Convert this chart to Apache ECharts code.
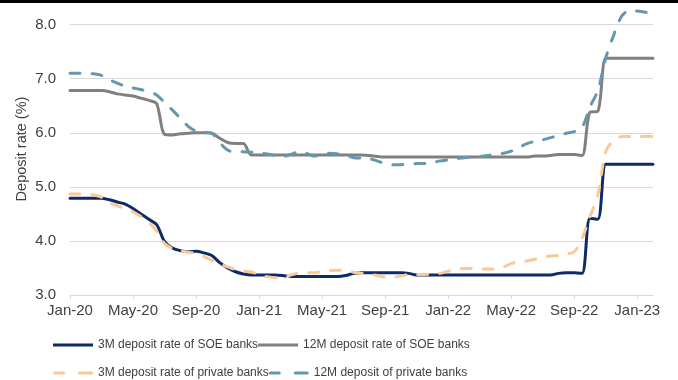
<!DOCTYPE html>
<html>
<head>
<meta charset="utf-8">
<script src="https://cdn.jsdelivr.net/npm/echarts@6/dist/echarts.min.js"></script>
<style>
  html, body { margin: 0; padding: 0; background: #fff; }
  #chart { width: 678px; height: 380px; }
</style>
</head>
<body>
<div id="chart"></div>
<script>
// Semi-monthly observations, Jan-20 through Feb-23
const periods = [];
(function () {
  const mon = ['Jan','Feb','Mar','Apr','May','Jun','Jul','Aug','Sep','Oct','Nov','Dec'];
  for (let m = 0; m < 38; m++) {
    const y = 20 + Math.floor(m / 12);
    const name = mon[m % 12] + '-' + y;
    periods.push(name);
    if (m < 37) periods.push(name + ' (mid)');
  }
})();

const tickLabels = ['Jan-20','May-20','Sep-20','Jan-21','May-21','Sep-21','Jan-22','May-22','Sep-22','Jan-23'];

const soe3m = [
  4.79, 4.79, 4.79, 4.79, 4.79, 4.76, 4.72, 4.68, 4.60, 4.50,
  4.40, 4.30, 3.99, 3.87, 3.82, 3.80, 3.81, 3.78, 3.73, 3.60,
  3.50, 3.43, 3.39, 3.37, 3.37, 3.37, 3.37, 3.36, 3.34, 3.34,
  3.34, 3.34, 3.34, 3.34, 3.34, 3.36, 3.40, 3.41, 3.41, 3.41,
  3.41, 3.41, 3.41, 3.40, 3.37, 3.37, 3.37, 3.37, 3.37, 3.37,
  3.37, 3.37, 3.37, 3.37, 3.37, 3.37, 3.37, 3.37, 3.37, 3.37,
  3.37, 3.37, 3.40, 3.41, 3.41, 3.40, 4.42, 4.40, 5.42, 5.42,
  5.42, 5.42, 5.42, 5.42, 5.42
];

const soe12m = [
  6.78, 6.78, 6.78, 6.78, 6.78, 6.76, 6.72, 6.70, 6.68, 6.64,
  6.60, 6.54, 5.97, 5.96, 5.98, 5.99, 6.00, 6.00, 5.99, 5.90,
  5.82, 5.80, 5.80, 5.59, 5.59, 5.59, 5.59, 5.59, 5.59, 5.59,
  5.59, 5.59, 5.59, 5.59, 5.59, 5.59, 5.59, 5.59, 5.58, 5.56,
  5.55, 5.55, 5.55, 5.55, 5.55, 5.55, 5.55, 5.55, 5.55, 5.55,
  5.55, 5.55, 5.55, 5.55, 5.55, 5.55, 5.55, 5.55, 5.55, 5.57,
  5.57, 5.58, 5.60, 5.60, 5.60, 5.58, 6.38, 6.40, 7.38, 7.38,
  7.38, 7.38, 7.38, 7.38, 7.38
];

const private3m = [
  4.87, 4.87, 4.86, 4.85, 4.81, 4.71, 4.65, 4.60, 4.54, 4.45,
  4.34, 4.18, 3.95, 3.86, 3.82, 3.79, 3.77, 3.71, 3.64, 3.57,
  3.52, 3.47, 3.44, 3.43, 3.37, 3.34, 3.32, 3.30, 3.37, 3.40,
  3.41, 3.41, 3.43, 3.45, 3.46, 3.45, 3.42, 3.40, 3.38, 3.36,
  3.33, 3.33, 3.35, 3.38, 3.38, 3.38, 3.39, 3.40, 3.44, 3.48,
  3.49, 3.49, 3.48, 3.48, 3.48, 3.52, 3.58, 3.62, 3.63, 3.66,
  3.70, 3.72, 3.73, 3.76, 3.80, 4.05, 4.45, 4.85, 5.65, 5.86,
  5.93, 5.93, 5.93, 5.93, 5.93
];

const private12m = [
  7.10, 7.10, 7.10, 7.09, 7.06, 6.98, 6.92, 6.86, 6.83, 6.80,
  6.75, 6.70, 6.56, 6.42, 6.27, 6.12, 6.03, 6.01, 5.99, 5.82,
  5.68, 5.64, 5.65, 5.64, 5.62, 5.61, 5.58, 5.56, 5.60, 5.64,
  5.62, 5.57, 5.59, 5.62, 5.61, 5.58, 5.54, 5.53, 5.52, 5.48,
  5.43, 5.41, 5.41, 5.42, 5.43, 5.43, 5.45, 5.48, 5.50, 5.52,
  5.54, 5.55, 5.56, 5.58, 5.60, 5.62, 5.66, 5.73, 5.80, 5.84,
  5.87, 5.91, 5.95, 5.99, 6.02, 6.10, 6.48, 6.78, 7.38, 7.80,
  8.15, 8.26, 8.25, 8.23, 8.20
];

const seriesNames = [
  '3M deposit rate of SOE banks',
  '12M deposit rate of SOE banks',
  '3M deposit rate of private banks',
  '12M deposit of private banks'
];

const FONT = '"Liberation Sans", Arial, sans-serif';
const SOLID_ICON = 'path://M0,0 L40,0 L40,3 L0,3 Z';
const DASH_ICON = 'path://M1.5,0 L10.5,0 A1.5,1.5 0 0 1 10.5,3 L1.5,3 A1.5,1.5 0 0 1 1.5,0 Z ' +
                  'M26.5,0 L38.5,0 A1.5,1.5 0 0 1 38.5,3 L26.5,3 A1.5,1.5 0 0 1 26.5,0 Z';

const chart = echarts.init(document.getElementById('chart'), null, { renderer: 'canvas' });

function lineSeries(name, data, color, dashed, z) {
  return {
    name: name,
    type: 'line',
    data: data,
    showSymbol: false,
    symbol: 'none',
    smooth: 0.3,
    z: z,
    lineStyle: {
      color: color,
      width: 3,
      type: dashed ? [10, 12] : 'solid',
      cap: 'round'
    },
    itemStyle: { color: color },
    emphasis: { disabled: true }
  };
}

const legendBase = {
  left: 53,
  padding: 0,
  itemWidth: 40,
  itemHeight: 3,
  itemGap: 0,
  textStyle: { fontFamily: FONT, fontSize: 12, color: '#404040', width: 170 }
};

chart.setOption({
  animation: false,
  grid: { left: 70, right: 25, top: 3, bottom: 85 },
  graphic: [{
    type: 'rect',
    shape: { x: 0, y: 0, width: 678, height: 3 },
    style: { fill: '#000' }
  }],
  legend: [
    Object.assign({}, legendBase, {
      top: 339,
      data: [
        { name: seriesNames[0], icon: SOLID_ICON },
        { name: seriesNames[1], icon: SOLID_ICON }
      ]
    }),
    Object.assign({}, legendBase, {
      top: 367,
      data: [
        { name: seriesNames[2], icon: DASH_ICON },
        { name: seriesNames[3], icon: DASH_ICON }
      ]
    })
  ],
  xAxis: {
    type: 'category',
    data: periods,
    boundaryGap: false,
    axisLine: { lineStyle: { color: '#d9d9d9', width: 1 } },
    axisTick: {
      length: 4,
      interval: function (i) { return i % 8 === 0; },
      lineStyle: { color: '#d9d9d9' }
    },
    axisLabel: {
      interval: 0,
      margin: 8,
      fontFamily: FONT,
      fontSize: 15,
      color: '#404040',
      formatter: function (v, i) { return i % 8 === 0 ? tickLabels[i / 8] : ''; }
    },
    splitLine: { show: false }
  },
  yAxis: {
    type: 'value',
    min: 3,
    max: 8.4,
    interval: 1,
    name: 'Deposit rate (%)',
    nameLocation: 'middle',
    nameRotate: 90,
    nameGap: 41,
    nameMoveOverlap: false,
    nameTextStyle: { fontFamily: FONT, fontSize: 14.5, color: '#404040' },
    axisLine: { show: false },
    axisTick: { show: false },
    axisLabel: {
      fontFamily: FONT,
      fontSize: 15,
      color: '#404040',
      margin: 14,
      showMaxLabel: false,
      formatter: function (v) { return Math.abs(v - Math.round(v)) < 1e-6 ? v.toFixed(1) : ''; }
    },
    splitLine: { showMaxLine: false, lineStyle: { color: '#d9d9d9', width: 1 } }
  },
  series: [
    lineSeries(seriesNames[1], soe12m, '#808080', false, 2),
    lineSeries(seriesNames[3], private12m, '#6597ae', true, 3),
    lineSeries(seriesNames[0], soe3m, '#0d2b67', false, 4),
    lineSeries(seriesNames[2], private3m, '#fbc898', true, 5)
  ]
});
</script>
</body>
</html>
